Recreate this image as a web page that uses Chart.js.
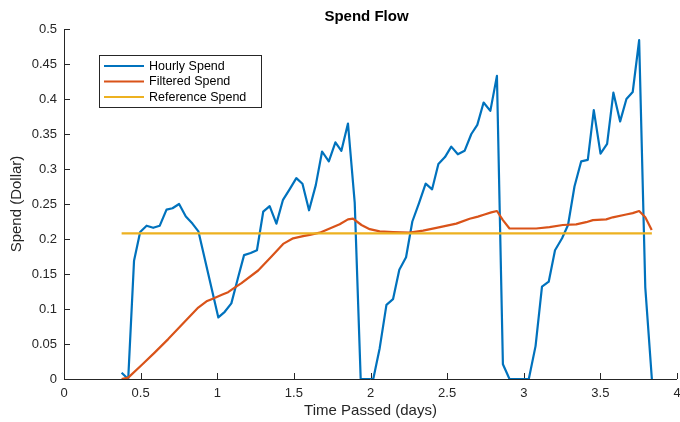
<!DOCTYPE html>
<html>
<head>
<meta charset="utf-8">
<title>Spend Flow</title>
<script src="https://cdn.jsdelivr.net/npm/chart.js@4/dist/chart.umd.min.js"></script>
<style>
  html, body { margin: 0; padding: 0; background: #ffffff; }
  #wrap { position: relative; width: 680px; height: 422px; }
</style>
</head>
<body>
<div id="wrap"><canvas id="chart" width="680" height="422"></canvas></div>
<script>
// Hourly spend samples (time in days, spend in dollars)
const hourlyDays = [
  0.376, 0.419, 0.457, 0.497, 0.539, 0.582, 0.625, 0.669, 0.708, 0.751, 0.795, 0.838, 0.877,
  1.007, 1.049, 1.092, 1.136, 1.175, 1.218, 1.259, 1.300, 1.342, 1.386, 1.429, 1.472, 1.516,
  1.556, 1.599, 1.643, 1.684, 1.728, 1.771, 1.810, 1.853, 1.897, 1.936, 2.018,
  2.060, 2.104, 2.147, 2.188, 2.232, 2.273, 2.316, 2.360, 2.402, 2.443, 2.486, 2.527, 2.570,
  2.614, 2.658, 2.697, 2.738, 2.782, 2.825, 2.864, 2.907, 3.033,
  3.077, 3.119, 3.163, 3.204, 3.250, 3.289, 3.331, 3.375, 3.418, 3.457, 3.501, 3.544, 3.585,
  3.629, 3.670, 3.711, 3.753, 3.793, 3.836
];
const hourlySpend = [
  0.009, 0.000, 0.169, 0.210, 0.219, 0.216, 0.219, 0.242, 0.244, 0.250, 0.232, 0.222, 0.211,
  0.088, 0.096, 0.108, 0.145, 0.177, 0.180, 0.184, 0.239, 0.247, 0.222, 0.256, 0.271, 0.287,
  0.279, 0.241, 0.277, 0.325, 0.311, 0.338, 0.326, 0.365, 0.252, 0.000, 0.000,
  0.044, 0.106, 0.114, 0.156, 0.174, 0.225, 0.251, 0.279, 0.271, 0.307, 0.317, 0.332, 0.321,
  0.326, 0.350, 0.363, 0.395, 0.383, 0.433, 0.021, 0.000, 0.000,
  0.047, 0.132, 0.139, 0.184, 0.201, 0.220, 0.275, 0.311, 0.313, 0.384, 0.322, 0.336, 0.409,
  0.368, 0.400, 0.410, 0.484, 0.131, 0.000
];

// Filtered spend curve
const filteredDays = [
  0.376, 0.419, 0.507, 0.593, 0.680, 0.767, 0.876, 0.930, 0.963, 1.038, 1.071, 1.104, 1.158,
  1.267, 1.354, 1.430, 1.495, 1.560, 1.604, 1.669, 1.734, 1.799, 1.853, 1.886, 1.941, 1.995,
  2.060, 2.147, 2.256, 2.343, 2.430, 2.560, 2.647, 2.701, 2.744, 2.788, 2.825, 2.864, 2.907,
  2.994, 3.081, 3.168, 3.255, 3.342, 3.407, 3.451, 3.538, 3.581, 3.668, 3.711, 3.753, 3.793, 3.835
];
const filteredSpend = [
  0.000, 0.002, 0.020, 0.038, 0.057, 0.077, 0.102, 0.111, 0.114, 0.121, 0.124, 0.129, 0.137,
  0.155, 0.175, 0.193, 0.201, 0.204, 0.206, 0.209, 0.215, 0.221, 0.228, 0.229, 0.220, 0.214,
  0.211, 0.210, 0.209, 0.212, 0.216, 0.222, 0.229, 0.232, 0.235, 0.238, 0.240, 0.227, 0.215,
  0.215, 0.215, 0.217, 0.220, 0.221, 0.224, 0.227, 0.228, 0.231, 0.235, 0.237, 0.240, 0.231, 0.213
];

// Constant reference spend level
const referenceDays = [0.376, 3.836];
const referenceSpend = [0.208, 0.208];

// Axis ticks
const xTickValues = [0, 0.5, 1, 1.5, 2, 2.5, 3, 3.5, 4];
const xTickLabels = ['0', '0.5', '1', '1.5', '2', '2.5', '3', '3.5', '4'];
const yTickValues = [0, 0.05, 0.1, 0.15, 0.2, 0.25, 0.3, 0.35, 0.4, 0.45, 0.5];
const yTickLabels = ['0', '0.05', '0.1', '0.15', '0.2', '0.25', '0.3', '0.35', '0.4', '0.45', '0.5'];

const seriesNames = ['Hourly Spend', 'Filtered Spend', 'Reference Spend'];
const seriesColors = ['#0072BD', '#D95319', '#EDB120'];

const FONT = '"Liberation Sans", Arial, Helvetica, sans-serif';
const AXIS_COLOR = '#262626';

function pairs(xs, ys) {
  return xs.map((x, i) => ({ x: x, y: ys[i] }));
}

// Axis lines and inward tick marks, drawn beneath the data lines
const axesPlugin = {
  id: 'axesLines',
  beforeDatasetsDraw(chart) {
    const { ctx, chartArea, scales } = chart;
    const xs = scales.x, ys = scales.y;
    const tickLen = 6;
    ctx.save();
    ctx.strokeStyle = AXIS_COLOR;
    ctx.lineWidth = 1;
    ctx.beginPath();
    ctx.moveTo(chartArea.left + 0.5, chartArea.top);
    ctx.lineTo(chartArea.left + 0.5, chartArea.bottom + 0.5);
    ctx.lineTo(chartArea.right, chartArea.bottom + 0.5);
    ctx.stroke();
    ctx.beginPath();
    xTickValues.forEach(v => {
      const px = Math.round(xs.getPixelForValue(v)) + 0.5;
      ctx.moveTo(px, chartArea.bottom);
      ctx.lineTo(px, chartArea.bottom - tickLen);
    });
    yTickValues.forEach(v => {
      const py = Math.round(ys.getPixelForValue(v)) + 0.5;
      ctx.moveTo(chartArea.left, py);
      ctx.lineTo(chartArea.left + tickLen, py);
    });
    ctx.stroke();
    ctx.restore();
  }
};

// Title, axis titles and the boxed legend
const textPlugin = {
  id: 'chartText',
  afterDraw(chart) {
    const { ctx, chartArea } = chart;
    const cx = (chartArea.left + chartArea.right) / 2;
    const cy = (chartArea.top + chartArea.bottom) / 2;
    ctx.save();
    ctx.fillStyle = '#000000';
    ctx.textAlign = 'center';
    ctx.textBaseline = 'middle';
    ctx.font = 'bold 15px ' + FONT;
    ctx.fillText('Spend Flow', cx - 4, 17);

    ctx.fillStyle = AXIS_COLOR;
    ctx.font = '15px ' + FONT;
    ctx.fillText('Time Passed (days)', cx, 411);
    ctx.save();
    ctx.translate(17, cy);
    ctx.rotate(-Math.PI / 2);
    ctx.fillText('Spend (Dollar)', 0, 0);
    ctx.restore();

    // legend box
    const bx = 99.5, by = 55.5, bw = 162, bh = 52;
    ctx.fillStyle = '#ffffff';
    ctx.fillRect(bx, by, bw, bh);
    ctx.strokeStyle = AXIS_COLOR;
    ctx.lineWidth = 1;
    ctx.strokeRect(bx, by, bw, bh);
    ctx.font = '12.5px ' + FONT;
    ctx.textAlign = 'left';
    ctx.textBaseline = 'middle';
    const rows = [66, 81.5, 97];
    chart.data.datasets.forEach((ds, i) => {
      ctx.strokeStyle = ds.borderColor;
      ctx.lineWidth = 2.2;
      ctx.beginPath();
      ctx.moveTo(104, rows[i]);
      ctx.lineTo(144, rows[i]);
      ctx.stroke();
      ctx.fillStyle = '#000000';
      ctx.fillText(ds.label, 149, rows[i] + 0.5);
    });
    ctx.restore();
  }
};

const ctx = document.getElementById('chart').getContext('2d');
new Chart(ctx, {
  type: 'line',
  data: {
    datasets: [
      { label: seriesNames[0], data: pairs(hourlyDays, hourlySpend), borderColor: seriesColors[0], order: 3 },
      { label: seriesNames[1], data: pairs(filteredDays, filteredSpend), borderColor: seriesColors[1], order: 2 },
      { label: seriesNames[2], data: pairs(referenceDays, referenceSpend), borderColor: seriesColors[2], order: 1 }
    ]
  },
  options: {
    responsive: false,
    animation: false,
    devicePixelRatio: 1,
    layout: { padding: { top: 29, left: 0, right: 3, bottom: 0 } },
    elements: {
      line: { borderWidth: 2.2, tension: 0, fill: false, borderCapStyle: 'butt', borderJoinStyle: 'round' },
      point: { radius: 0, hoverRadius: 0 }
    },
    plugins: {
      legend: { display: false },
      title: { display: false },
      tooltip: { enabled: false }
    },
    events: [],
    scales: {
      x: {
        type: 'linear',
        min: 0,
        max: 4,
        grid: { display: false, drawTicks: false },
        border: { display: false },
        afterBuildTicks: s => { s.ticks = xTickValues.map(v => ({ value: v })); },
        afterFit: s => { s.height = 43; s.paddingLeft = 0; s.paddingRight = 0; },
        ticks: {
          padding: 7,
          maxRotation: 0,
          autoSkip: false,
          color: AXIS_COLOR,
          font: { family: FONT, size: 13 },
          callback: (v, i) => xTickLabels[i]
        }
      },
      y: {
        type: 'linear',
        min: 0,
        max: 0.5,
        grid: { display: false, drawTicks: false },
        border: { display: false },
        afterBuildTicks: s => { s.ticks = yTickValues.map(v => ({ value: v })); },
        afterFit: s => { s.width = 64; s.paddingTop = 0; s.paddingBottom = 0; },
        ticks: {
          padding: 7,
          autoSkip: false,
          color: AXIS_COLOR,
          font: { family: FONT, size: 13 },
          callback: (v, i) => yTickLabels[i]
        }
      }
    }
  },
  plugins: [axesPlugin, textPlugin]
});
</script>
</body>
</html>
